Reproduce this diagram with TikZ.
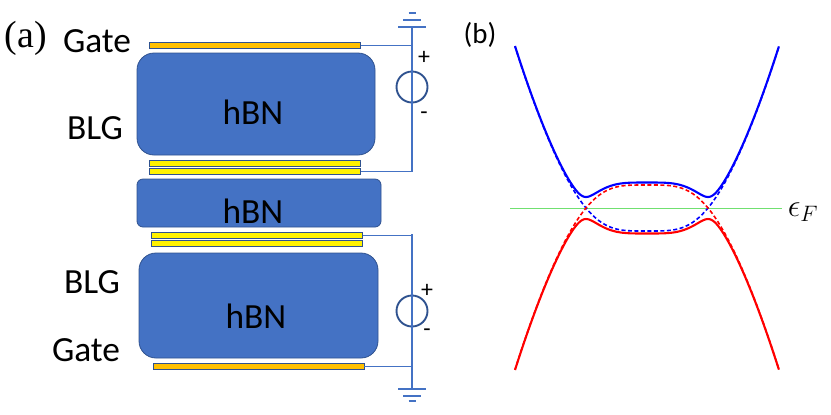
\documentclass[tikz,border=0pt]{standalone}
\usepackage{fix-cm}
\usepackage{fontspec}
\setmainfont{Carlito}
\newfontfamily\serifpanel{Liberation Serif}
\usetikzlibrary{positioning}
\definecolor{hbnfill}{HTML}{4472C4}
\definecolor{hbnedge}{HTML}{2F528F}
\definecolor{gatefill}{HTML}{FFC000}
\definecolor{bandgreen}{HTML}{70E070}

\begin{document}
\begin{tikzpicture}[
    x=1bp, y=-1bp,
    declare function={
        bare(\t)=(\t*\t-1)*(44-21*exp(-1.1*\t*\t));
        mixed(\t)=100*sqrt(bare(\t)/100*bare(\t)/100+0.0121);
    },
    lbl/.style={font=\fontsize{35.5}{38}\selectfont, inner sep=0pt, text=black},
    hbn/.style={draw=hbnedge, line width=0.8pt, fill=hbnfill, minimum width=238bp,
        minimum height=102bp, rounded corners=17bp, inner sep=0pt},
    gatebar/.style={draw=hbnedge, line width=0.8pt, fill=gatefill,
        minimum width=211bp, minimum height=5.5bp, inner sep=0pt},
    blgbar/.style={gatebar, fill=yellow},
    wire/.style={draw=hbnfill, line width=1.9pt},
    source/.style={circle, draw=hbnedge, line width=1.9pt, minimum size=31bp, inner sep=0pt},
    sign/.style={font=\fontsize{24}{26}\selectfont, inner sep=0pt},
    band/.style={line width=2.1pt, samples=161, smooth},
    bareband/.style={line width=1.6pt, samples=161, smooth, dash pattern=on 4pt off 2.5pt},
]
\useasboundingbox (0,0) rectangle (831,414);

% ---- panel (a): stack ----
\node[hbn] (hbntop) at (256,104) {};
\node[lbl] at (253,112) (hbntoplabel) {hBN};
\node[hbn, minimum width=244bp, minimum height=48bp, rounded corners=6bp] (hbnmid) at (259,203) {};
\node[lbl] at (253,211) (hbnmidlabel) {hBN};
\node[hbn, minimum width=239bp, minimum height=105bp] (hbnbot) at (258.5,305.5) {};
\node[lbl] at (256,316) (hbnbotlabel) {hBN};

\node[gatebar] (gatetop) at (255,45.5) {};
\node[blgbar]  (blgtopa) at (255,163.5) {};
\node[blgbar]  (blgtopb) at (255,171.5) {};
\node[blgbar]  (blgbota) at (257,235.5) {};
\node[blgbar]  (blgbotb) at (257,243.5) {};
\node[gatebar] (gatebot) at (258.5,366.5) {};

% ---- panel (a): labels ----
\node[lbl, font=\serifpanel\fontsize{38}{40}\selectfont] (panela) at (26,38) {(a)};
\node[lbl] (gatetoplabel) at (97,41) {Gate};
\node[lbl] (blgtoplabel) at (95,128) {BLG};
\node[lbl] (blgbotlabel) at (92,282) {BLG};
\node[lbl] (gatebotlabel) at (86,350) {Gate};

% ---- top circuit ----
\coordinate (gndtop) at (412,27);
\node[source] (srctop) at (412,87) {};
\draw[wire] (gndtop) -- (gndtop |- blgtopb.east);
\draw[wire] (gatetop.east) -- (gatetop.east -| gndtop);
\draw[wire] (blgtopb.east) -- (blgtopb.east -| gndtop);
\coordinate (gndtopb) at (412,20);
\coordinate (gndtopc) at (412,13);
\draw[wire] ([xshift=-14bp]gndtop) -- ([xshift=14bp]gndtop);
\draw[wire] ([xshift=-9bp]gndtopb) -- ([xshift=9bp]gndtopb);
\draw[wire, line width=2.4pt] ([xshift=-3.5bp]gndtopc) -- ([xshift=3.5bp]gndtopc);
\node[sign] (plustop) at (424,58) {+};
\node[sign] (minustop) at (424,116) {-};

% ---- bottom circuit ----
\coordinate (railbot) at (412,234);
\coordinate (gndbot) at (412,389);
\node[source] (srcbot) at (412,311) {};
\draw[wire] (railbot) -- (gndbot);
\draw[wire] (blgbota.east) -- (blgbota.east -| railbot);
\draw[wire] (gatebot.east) -- (gatebot.east -| railbot);
\coordinate (gndbotb) at (412,396);
\coordinate (gndbotc) at (412,401);
\draw[wire] ([xshift=-14bp]gndbot) -- ([xshift=14bp]gndbot);
\draw[wire] ([xshift=-9bp]gndbotb) -- ([xshift=9bp]gndbotb);
\draw[wire, line width=2.4pt] ([xshift=-3.5bp]gndbotc) -- ([xshift=3.5bp]gndbotc);
\node[sign] (plusbot) at (427,291) {+};
\node[sign] (minusbot) at (427,333) {-};

% ---- panel (b): bands ----
\node[lbl, font=\fontsize{29}{32}\selectfont] (panelb) at (480,35) {(b)};
\coordinate (fermil) at (510,208);
\coordinate (fermir) at (782,208);
\draw[bandgreen, line width=1pt] (fermil) -- (fermir);
\begin{scope}[shift={(647,208)}]
    \draw[bareband, blue, domain=-2.164:2.164] plot ({61*\x},{-bare(\x)});
    \draw[bareband, red, domain=-2.164:2.164] plot ({61*\x},{bare(\x)});
    \draw[band, blue, domain=-2.164:2.164] plot ({61*\x},{-mixed(\x)});
    \draw[band, red, domain=-2.164:2.164] plot ({61*\x},{mixed(\x)});
\end{scope}
\node[lbl, font=\fontsize{32}{34}\selectfont] (fermilabel) at (803,212) {$\epsilon_F$};

\end{tikzpicture}
\end{document}
